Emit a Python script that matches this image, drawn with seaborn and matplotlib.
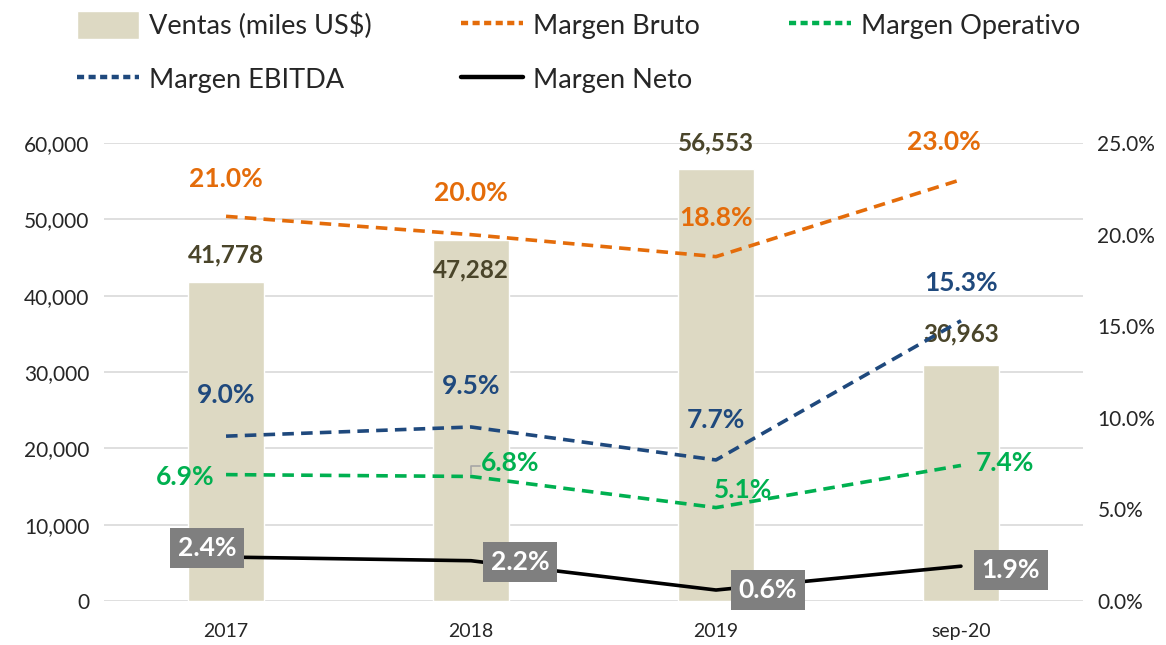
import matplotlib
matplotlib.use("Agg")
import matplotlib.pyplot as plt
import seaborn as sns
import numpy as np
from matplotlib.patches import Patch
from matplotlib.lines import Line2D
from matplotlib.ticker import FuncFormatter

# Datos del gráfico
periodos = ["2017", "2018", "2019", "sep-20"]
ventas = [41778, 47282, 56553, 30963]
margen_bruto = [21.0, 20.0, 18.8, 23.0]
margen_ebitda = [9.0, 9.5, 7.7, 15.3]
margen_operativo = [6.9, 6.8, 5.1, 7.4]
margen_neto = [2.4, 2.2, 0.6, 1.9]

# Colores
C_BAR = "#DDD9C3"
C_BAR_TXT = "#4A452A"
C_BRUTO = "#E46C0A"
C_EBITDA = "#1F497D"
C_OPER = "#00B050"
C_NETO = "#000000"

sns.set_style("white")
plt.rcParams["font.family"] = ["Lato", "DejaVu Sans"]

fig = plt.figure(figsize=(11.66, 6.45), dpi=100)
ax = fig.add_axes([0.0888, 0.0682, 0.8404, 0.7100])
ax2 = ax.twinx()

# Barras de ventas
sns.barplot(x=periodos, y=ventas, color=C_BAR, width=0.31, ax=ax, saturation=1)
ax.set_ylim(0, 60000)
ax.set_yticks(np.arange(0, 60001, 10000))
ax.yaxis.set_major_formatter(FuncFormatter(lambda v, p: f"{v:,.0f}"))
ax.grid(axis="y", color="#D9D9D9", linewidth=1.2)
ax.set_axisbelow(True)
ax.set_xlim(-0.5, 3.5)
ax.tick_params(axis="y", labelsize=15, length=0, pad=10)
ax.tick_params(axis="x", labelsize=14, length=0, pad=16)
ax.set_xlabel("")

# Líneas de márgenes (eje derecho)
xs = np.arange(len(periodos))
dash = (0, (3.2, 2.0))
sns.lineplot(x=xs, y=margen_bruto, ax=ax2, color=C_BRUTO, linewidth=2.6, linestyle=dash)
sns.lineplot(x=xs, y=margen_ebitda, ax=ax2, color=C_EBITDA, linewidth=2.6, linestyle=dash)
sns.lineplot(x=xs, y=margen_operativo, ax=ax2, color=C_OPER, linewidth=2.6, linestyle=dash)
sns.lineplot(x=xs, y=margen_neto, ax=ax2, color=C_NETO, linewidth=2.6)
ax2.set_ylim(0, 25)
ax2.set_yticks(np.arange(0, 25.1, 5))
ax2.yaxis.set_major_formatter(FuncFormatter(lambda v, p: f"{v:.1f}%"))
ax2.tick_params(axis="y", labelsize=15, length=0, pad=10)
ax2.set_xlim(-0.5, 3.5)

for a in (ax, ax2):
    for s in a.spines.values():
        s.set_visible(False)

px = 0.72  # pixeles -> puntos

# Etiquetas de ventas
off_ventas = [27, -30, 26, 31]
for i, v in enumerate(ventas):
    ax.annotate(f"{v:,}", (i, v), xytext=(0, off_ventas[i] * px), textcoords="offset points",
                ha="center", va="center", fontsize=17.5, fontweight="bold", color=C_BAR_TXT)

def etiquetas(vals, offs, color, **kw):
    for i, v in enumerate(vals):
        dx, dy = offs[i]
        ax2.annotate(f"{v:.1f}%", (i, v), xytext=(dx * px, dy * px), textcoords="offset points",
                     ha="center", va="center", fontsize=19, fontweight="bold", color=color, **kw)

etiquetas(margen_bruto, [(0, 37), (0, 42), (0, 39), (-17, 38)], C_BRUTO)
etiquetas(margen_ebitda, [(0, 41), (0, 41), (0, 40), (0, 38)], C_EBITDA)
etiquetas(margen_operativo, [(-41, -2), (39, 13), (27, 18), (44, 2)], C_OPER)
etiquetas(margen_neto, [(-19, 9), (49, -1), (52, 0), (50, -4)], "white",
          bbox=dict(boxstyle="square,pad=0.3", fc="#7F7F7F", ec="none"))

# Línea guía de la etiqueta 6.8%
ax2.annotate("", xy=(1.0, margen_operativo[1]), xytext=(1.05, margen_operativo[1] + 0.55),
             arrowprops=dict(arrowstyle="-", color="#A6A6A6", lw=1.2,
                             connectionstyle="angle,angleA=0,angleB=90,rad=0"))

# Leyenda
handles = [
    Patch(facecolor=C_BAR, label="Ventas (miles US$)"),
    Line2D([], [], color=C_EBITDA, lw=3.2, linestyle=(0, (1.6, 1.0)), label="Margen EBITDA"),
    Line2D([], [], color=C_BRUTO, lw=3.2, linestyle=(0, (1.6, 1.0)), label="Margen Bruto"),
    Line2D([], [], color=C_NETO, lw=3.2, label="Margen Neto"),
    Line2D([], [], color=C_OPER, lw=3.2, linestyle=(0, (1.6, 1.0)), label="Margen Operativo"),
]
fig.legend(handles=handles, ncol=3, loc="upper left", bbox_to_anchor=(0.045, 1.02),
           frameon=False, fontsize=19.5, handlelength=2.3, handleheight=1.2, handletextpad=0.35,
           columnspacing=3.3, labelspacing=0.95)

fig.savefig("out.png", dpi=100)
